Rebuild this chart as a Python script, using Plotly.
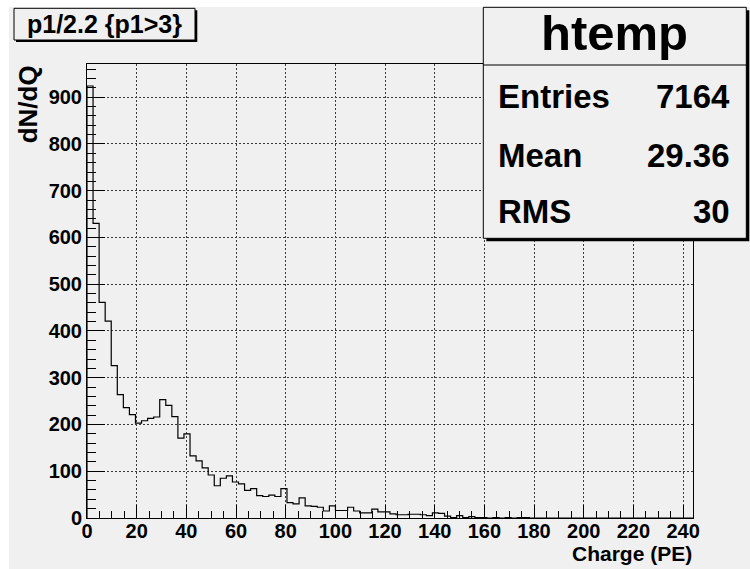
import plotly.graph_objects as go

# ---------------- data ----------------
X_MIN, X_MAX, N_BINS = 0.0, 244.0, 100
COUNTS = [
    924, 630, 461, 421, 326, 264, 236, 221, 203, 208,
    213, 216, 253, 241, 217, 171, 180, 133, 122, 107,
    92, 69, 85, 90, 77, 73, 59, 63, 48, 46,
    49, 46, 63, 33, 30, 43, 26, 25, 23, 15,
    26, 16, 16, 23, 15, 11, 11, 19, 13, 13,
    9, 7, 7, 8, 8, 7, 5, 11, 10, 4,
    1, 5, 1, 3, 1, 1, 0, 1, 0, 1,
    0, 1, 1, 0, 0, 0, 0, 0, 0, 0,
    0, 0, 0, 0, 0, 0, 0, 0, 0, 0,
    0, 0, 0, 0, 0, 0, 0, 0, 0, 0,
]
Y_MAX = 971
X_TICKS = list(range(0, 241, 20))
Y_TICKS = list(range(0, 901, 100))
TITLE = "p1/2.2 {p1>3}"
HIST_NAME = "htemp"
STAT_LABELS = ["Entries", "Mean", "RMS"]
STAT_VALUES = ["7164", "29.36", "30"]
X_TITLE = "Charge (PE)"
Y_TITLE = "dN/dQ"

# ---------------- layout geometry ----------------
W, H = 750, 569
L, R, T, B = 87, 57, 64, 51
PW, PH = W - L - R, H - T - B
BG = "#f0f0f0"
FONT = "Liberation Sans, Arial, sans-serif"


def px(x):
    return (x - L) / PW


def py(y):
    return (H - B - y) / PH


edges = [X_MIN + i * (X_MAX - X_MIN) / N_BINS for i in range(N_BINS + 1)]
xs = [edges[0]] + edges[:-1] + [edges[-1]]
ys = [0] + COUNTS + [0]

fig = go.Figure()
fig.add_trace(go.Scatter(
    x=xs, y=ys, mode="lines", line=dict(shape="hv", color="black", width=1.2),
    showlegend=False, hoverinfo="skip",
))

axis_common = dict(
    showline=True, mirror=True, linecolor="black", linewidth=1,
    ticks="inside", tickcolor="black", tickwidth=1,
    showgrid=True, gridcolor="#3a3a3a", gridwidth=1, griddash="2px,2px",
    zeroline=False,
    tickfont=dict(family=FONT, size=20, color="black", weight="bold"),
)

fig.update_xaxes(
    range=[X_MIN, X_MAX], tickvals=X_TICKS, ticklen=13,
    minor=dict(dtick=5, ticks="inside", ticklen=7, tickcolor="black", showgrid=False),
    ticklabelstandoff=-5,
    **axis_common,
)
fig.update_yaxes(
    range=[0, Y_MAX], tickvals=Y_TICKS, ticklen=18,
    minor=dict(dtick=20, ticks="inside", ticklen=9, tickcolor="black", showgrid=False),
    ticklabelstandoff=0,
    **axis_common,
)

shapes = []
# white canvas border strips
shapes.append(dict(type="rect", xref="paper", yref="paper", layer="below",
                   x0=px(0), x1=px(W), y0=py(0), y1=py(7), fillcolor="white", line_width=0))
shapes.append(dict(type="rect", xref="paper", yref="paper", layer="below",
                   x0=px(0), x1=px(9), y0=py(0), y1=py(H), fillcolor="white", line_width=0))

# title box with shadow
shapes.append(dict(type="rect", xref="paper", yref="paper", layer="above",
                   x0=px(16), x1=px(197.3), y0=py(10.3), y1=py(42), fillcolor="black", line_width=0))
shapes.append(dict(type="rect", xref="paper", yref="paper", layer="above",
                   x0=px(14), x1=px(195), y0=py(8.3), y1=py(40), fillcolor=BG,
                   line=dict(color="black", width=1)))

# stats box with shadow
shapes.append(dict(type="rect", xref="paper", yref="paper", layer="above",
                   x0=px(486.3), x1=px(749.3), y0=py(10.3), y1=py(241.3), fillcolor="black", line_width=0))
shapes.append(dict(type="rect", xref="paper", yref="paper", layer="above",
                   x0=px(483.3), x1=px(746.3), y0=py(7.3), y1=py(238.3), fillcolor=BG,
                   line=dict(color="black", width=1)))
shapes.append(dict(type="line", xref="paper", yref="paper", layer="above",
                   x0=px(483.3), x1=px(746.3), y0=py(65), y1=py(65),
                   line=dict(color="black", width=1)))

annotations = []


def ann(text, x, y, size, xanchor="center", yanchor="middle", angle=0):
    annotations.append(dict(
        text=text, xref="paper", yref="paper", x=px(x), y=py(y),
        xanchor=xanchor, yanchor=yanchor, showarrow=False, textangle=angle,
        font=dict(family=FONT, size=size, color="black", weight="bold"),
    ))


ann(TITLE, 104.5, 24.5, 25)
ann(HIST_NAME, 614, 50 - 0.35 * 49, 49)
for i, (lab, val) in enumerate(zip(STAT_LABELS, STAT_VALUES)):
    base = [108.3, 166.7, 222.7][i]
    ann(lab, 496, base - 0.35 * 33, 33, xanchor="left")
    ann(val, 732, base - 0.35 * 33, 33, xanchor="right")
ann(X_TITLE, 694, 560 - 0.35 * 21 + 1, 21, xanchor="right")
ann(Y_TITLE, 28.3, 104, 26, angle=-90)

fig.update_layout(
    width=W, height=H,
    margin=dict(l=L, r=R, t=T, b=B, pad=0),
    paper_bgcolor=BG, plot_bgcolor="rgba(0,0,0,0)",
    shapes=shapes, annotations=annotations,
    showlegend=False,
)

fig.write_html("out.html")
